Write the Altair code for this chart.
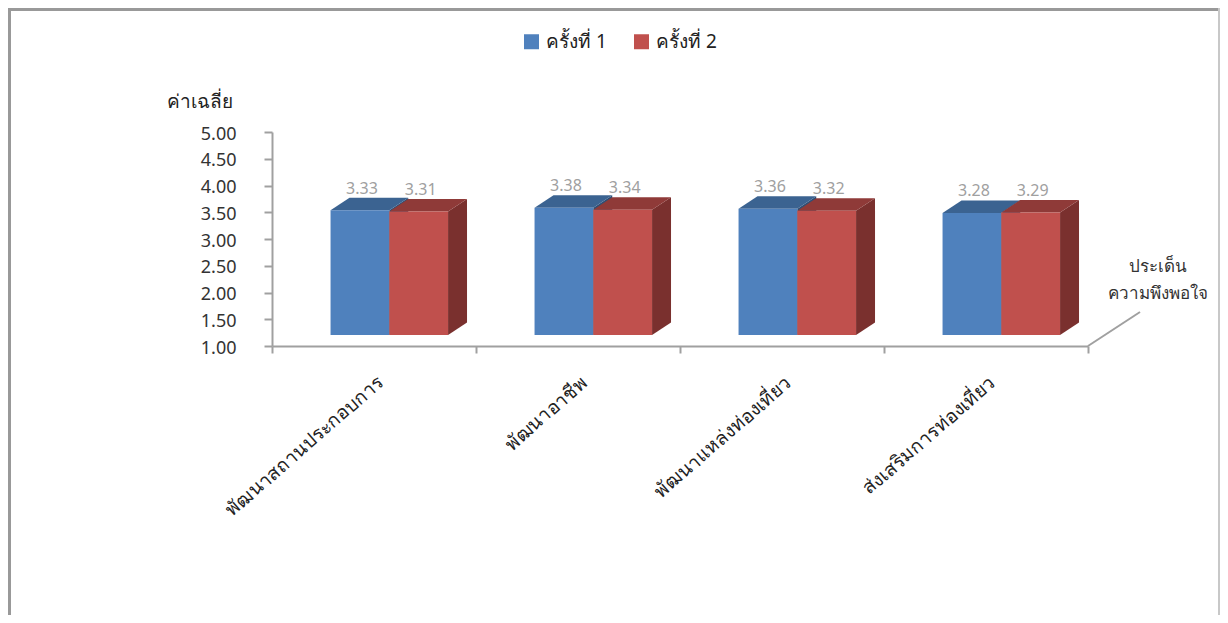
import altair as alt
import pandas as pd

categories = ["พัฒนาสถานประกอบการ", "พัฒนาอาชีพ", "พัฒนาแหล่งท่องเที่ยว", "ส่งเสริมการท่องเที่ยว"]
series_names = ["ครั้งที่ 1", "ครั้งที่ 2"]
round1 = [3.33, 3.38, 3.36, 3.28]
round2 = [3.31, 3.34, 3.32, 3.29]
series_values = [round1, round2]
front_colors = ["#4F81BD", "#C0504D"]
top_colors = ["#3B6391", "#8F3A38"]
side_colors = ["#2F4F75", "#7A302E"]
y_ticks = [1.0, 1.5, 2.0, 2.5, 3.0, 3.5, 4.0, 4.5, 5.0]
x_ticks = [0, 1, 2, 3, 4]

FONT = "Noto Sans"
LEFT = 0.287      # gap from band start to first bar (band units)
BAR = 0.288       # bar width (band units)
DX = 0.093        # depth shift along x (band units)
DY = 0.234        # depth shift along y (value units)
LIFT = 0.206      # floor lift of the front faces (value units)
BASE = 1 + LIFT

x_scale = alt.Scale(domain=[0, 4], nice=False, zero=False)
y_scale = alt.Scale(domain=[1, 5], nice=False, zero=False)
X = alt.X("x:Q", scale=x_scale, axis=alt.Axis(values=x_ticks, tickCount=5))
Y = alt.Y("y:Q", scale=y_scale, axis=alt.Axis(values=y_ticks, tickCount=9, labelOverlap=False))

# axis layer
axis_df = pd.DataFrame({"x": [0, 4], "y": [1, 1]})
axes = alt.Chart(axis_df).mark_point(opacity=0).encode(
    x=alt.X("x:Q", scale=x_scale, axis=alt.Axis(
        values=x_ticks, tickCount=5, labels=False, grid=False, domainColor="#A0A0A0", domainWidth=2,
        tickColor="#A0A0A0", tickWidth=2, tickSize=7,
        title=["ประเด็น", "ความพึงพอใจ"], titleFont=FONT, titleFontSize=17, titleFontWeight="normal",
        titleColor="#333333", titleX=885, titleY=-88, titleAlign="center", titleBaseline="top",
        titleLineHeight=27)),
    y=alt.Y("y:Q", scale=y_scale, axis=alt.Axis(
        values=y_ticks, tickCount=9, format=".2f", grid=False, domainColor="#A0A0A0", domainWidth=2,
        tickColor="#A0A0A0", tickWidth=2, tickSize=8, labelPadding=28, labelOverlap=False,
        labelFont=FONT, labelFontSize=18, labelColor="#333333", labelOffset=2,
        title="ค่าเฉลี่ย", titleFont=FONT, titleFontSize=19, titleFontWeight="normal",
        titleColor="#222222", titleAngle=0, titleX=-73, titleY=-31,
        titleAlign="center", titleBaseline="middle")),
)

# floor diagonal
floor = alt.Chart(pd.DataFrame({"x": [4], "x2": [4.255], "y": [1], "y2": [1.635]})).mark_rule(
    color="#A0A0A0", strokeWidth=2
).encode(x=X, x2="x2:Q", y=Y, y2="y2:Q")

layers = [axes, floor]
for s, (name, vals) in enumerate(zip(series_names, series_values)):
    x0s = [i + LEFT + s * BAR for i in range(len(vals))]
    tops = [v + LIFT for v in vals]
    side_rows, top_rows = [], []
    for i, (x0, t) in enumerate(zip(x0s, tops)):
        x1 = x0 + BAR
        side_rows += [
            {"g": i, "x": x1, "y": t, "y2": BASE},
            {"g": i, "x": x1 + DX, "y": t + DY, "y2": BASE + DY},
        ]
        top_rows += [
            {"g": i, "x": x0, "y": t, "y2": t},
            {"g": i, "x": x0 + DX, "y": t + DY, "y2": t},
            {"g": i, "x": x1, "y": t + DY, "y2": t},
            {"g": i, "x": x1 + DX, "y": t + DY, "y2": t + DY},
        ]
    layers.append(alt.Chart(pd.DataFrame(side_rows)).mark_area(color=side_colors[s], interpolate="linear").encode(
        x=X, y=Y, y2="y2:Q", detail="g:N"))
    layers.append(alt.Chart(pd.DataFrame(top_rows)).mark_area(color=top_colors[s], interpolate="linear").encode(
        x=X, y=Y, y2="y2:Q", detail="g:N"))
    front = pd.DataFrame({
        "x": x0s, "x2": [a + BAR for a in x0s], "y": tops, "y2": [BASE] * len(vals),
        "series": [name] * len(vals),
    })
    layers.append(alt.Chart(front).mark_rect().encode(
        x=X, x2="x2:Q", y=Y, y2="y2:Q",
        color=alt.Color("series:N", scale=alt.Scale(domain=series_names, range=front_colors), legend=alt.Legend(
            title=None, orient="none", legendX=250, legendY=-100, direction="horizontal",
            symbolType="square", symbolSize=225, symbolStrokeWidth=0, symbolOpacity=1,
            labelFont=FONT, labelFontSize=19, labelColor="#222222", columnPadding=25,
            labelOffset=5)),
    ))

# value labels
label_rows = []
for s, vals in enumerate(series_values):
    for i, v in enumerate(vals):
        label_rows.append({"x": i + LEFT + s * BAR + BAR / 2, "y": v + LIFT + DY, "t": f"{v:.2f}"})
value_text = alt.Chart(pd.DataFrame(label_rows)).mark_text(
    font=FONT, fontSize=16, color="#A0A0A0", dx=2, dy=-9
).encode(x=X, y=Y, text="t:N")

# category labels
cat_df = pd.DataFrame({"x": [i + 0.5 for i in range(len(categories))], "t": categories})
cat_text = alt.Chart(cat_df).mark_text(
    font=FONT, fontSize=19, color="#222222", angle=319, align="right", baseline="middle", dx=9
).encode(x=X, y=alt.value(254), text="t:N")

# frame
frame = [
    alt.Chart(axis_df).mark_rule(color="#999999", strokeWidth=3).encode(
        x=alt.value(-262.5), y=alt.value(-124), y2=alt.value(483)),
    alt.Chart(axis_df).mark_rule(color="#999999", strokeWidth=3).encode(
        x=alt.value(-264), x2=alt.value(948), y=alt.value(-122.5)),
    alt.Chart(axis_df).mark_rule(color="#C8C8C8", strokeWidth=2).encode(
        x=alt.value(947), y=alt.value(-124), y2=alt.value(483)),
]

chart = alt.layer(*frame, *layers, value_text, cat_text).properties(
    width=816, height=214,
    padding={"left": 264, "top": 124, "right": 132, "bottom": 275},
    autosize=alt.AutoSizeParams(type="none"),
).configure_view(stroke=None)

chart.save("out.html", embed_options={"renderer": "svg", "actions": False})
